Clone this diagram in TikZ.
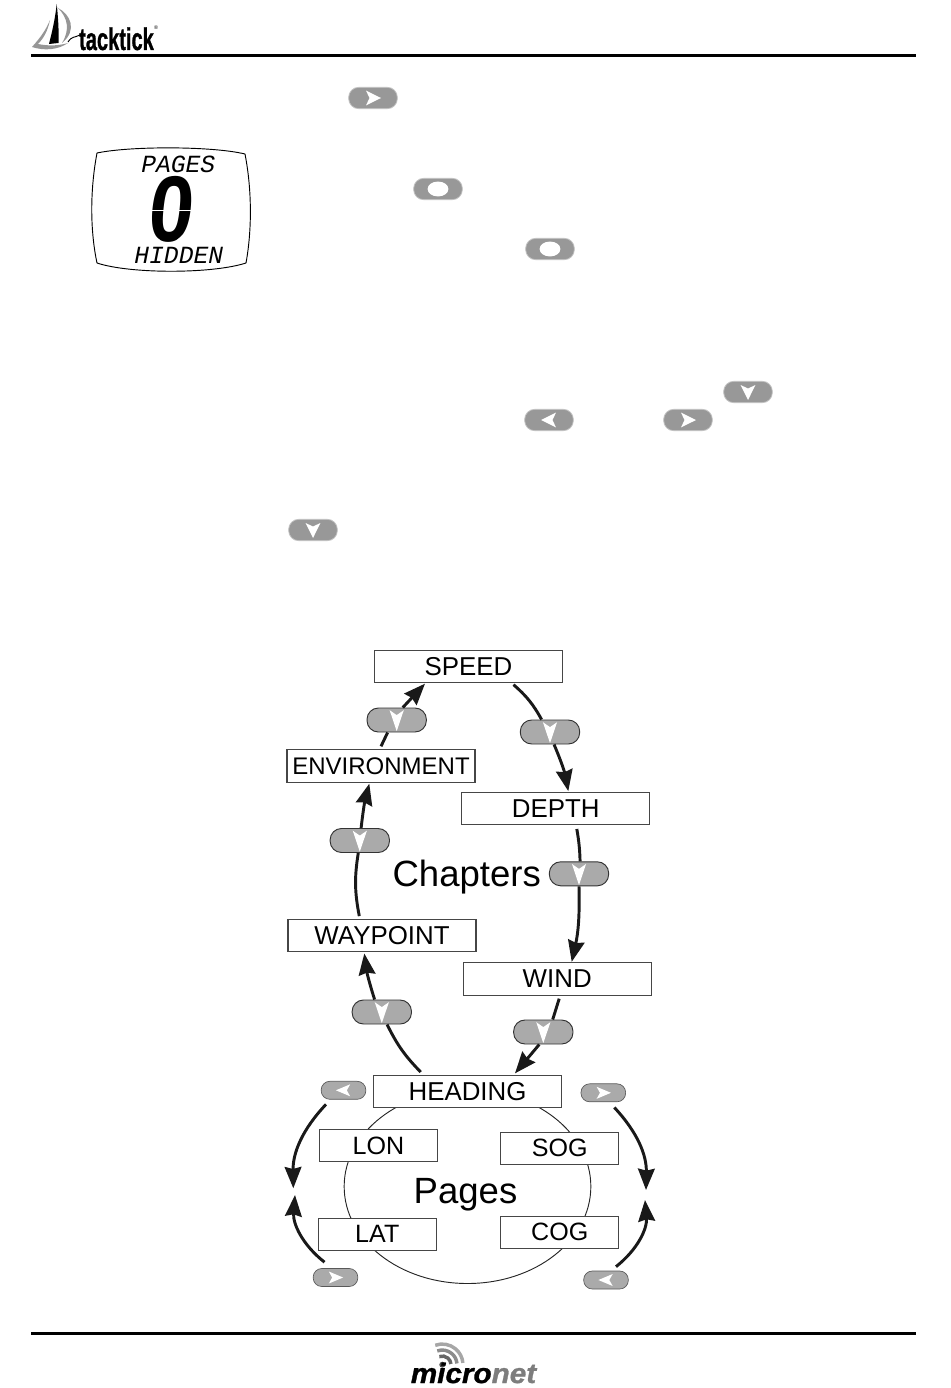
\documentclass[tikz,border=0pt]{standalone}
\usepackage{fontspec}
\setmainfont{Liberation Sans}
\newfontfamily\lcdfont{Liberation Mono}
\newfontfamily\logofont[RawFeature={embolden=1.2}]{Liberation Sans Bold}
\newfontfamily\netfont[RawFeature={embolden=1.0}]{Liberation Sans Bold Italic}
\usepackage{tikz}
\usepackage{xcolor}
\usetikzlibrary{positioning,arrows.meta,calc,shapes.geometric}
\definecolor{keygrey}{RGB}{160,160,160}
\definecolor{keyedge}{RGB}{195,195,195}
\definecolor{boxline}{RGB}{70,70,70}
\definecolor{sailgrey}{RGB}{150,150,150}
\definecolor{netgrey}{RGB}{125,125,125}
\tikzset{
    chapter/.style={
        rectangle,
        draw=boxline,
        fill=white,
        line width=0.8pt,
        minimum width=141pt,
        minimum height=24.2pt,
        inner sep=0pt,
        font=\fontsize{19.4}{21}\selectfont
    },
    page/.style={
        chapter,
        minimum width=88.5pt,
        font=\fontsize{18.8}{21}\selectfont
    },
    title/.style={
        anchor=base,
        inner sep=0pt,
        font=\fontsize{27.4}{30}\selectfont
    },
    lcd/.style={
        inner sep=0pt,
        font=\lcdfont\itshape\fontsize{18.5}{20}\selectfont
    },
    % angle, tip, back and half width of the chevron
    keyarrow/.style n args={4}{
        path picture={
            \fill[white,sharp corners,shift={(path picture bounding box.center)}]
                (#1:#2pt) -- ({#1+180-atan(#4/#3)}:{sqrt(#3*#3+#4*#4)*1pt})
                -- ({#1+180}:{#3*0.5pt}) -- ({#1+180+atan(#4/#3)}:{sqrt(#3*#3+#4*#4)*1pt}) -- cycle;
        }
    },
    topkey/.style={
        rectangle,
        rounded corners=7.5pt,
        draw=keyedge,
        fill=keygrey!95!black,
        line width=0.6pt,
        minimum width=36.5pt,
        minimum height=16pt,
        inner sep=0pt,
        keyarrow={#1}{6}{5.25}{5.6}
    },
    dotkey/.style={
        rectangle,
        rounded corners=7.5pt,
        draw=keyedge,
        fill=keygrey!95!black,
        line width=0.6pt,
        minimum width=36.5pt,
        minimum height=16pt,
        inner sep=0pt,
        path picture={
            \fill[white,sharp corners] (path picture bounding box.center) ellipse (7.8pt and 5.6pt);
        }
    },
    bigkey/.style={
        rectangle,
        rounded corners=8.5pt,
        draw=black!80,
        fill=keygrey!90,
        line width=0.7pt,
        minimum width=44.5pt,
        minimum height=18pt,
        inner sep=0pt,
        keyarrow={-90}{8.4}{7.35}{5.3}
    },
    smallkey/.style={
        rectangle,
        rounded corners=6.5pt,
        draw=black!65,
        fill=keygrey!90,
        line width=0.5pt,
        minimum width=33.5pt,
        minimum height=13.5pt,
        inner sep=0pt,
        keyarrow={#1}{5.7}{5}{4.5}
    },
    flow/.style={line width=2.2pt,black!90},
    arr/.style={flow,-{Stealth[length=16pt,width=12.5pt,inset=1.5pt]}},
    rule/.style={line width=2.4pt,black}
}

\begin{document}
\begin{tikzpicture}[x=0.75pt,y=-0.75pt]
\useasboundingbox (0,0) rectangle (950,1388);

% header
\coordinate (headl) at (31,55.5);
\coordinate (headr) at (916,55.5);
\draw[rule] (headl) -- (headr);
\fill[sailgrey] (50,20) .. controls (46,30) and (40,38) .. (32,47) .. controls (44,51) and (58,50) .. (68,43) .. controls (58,46) and (48,46) .. (38,44) .. controls (44,38) and (48,30) .. cycle;
\fill[sailgrey] (58,8) .. controls (70,14) and (78,30) .. (62,43) .. controls (70,30) and (68,18) .. cycle;
\fill[black] (56.7,4) .. controls (55,20) and (52,32) .. (49,44) -- (58.5,43) .. controls (59,30) and (58,16) .. cycle;
\draw[black,line width=0.7pt] (68,42) .. controls (72,36) and (74,38) .. (80,35);
\node[anchor=base,inner sep=0pt,xscale=0.64,font=\logofont\fontsize{23.5}{25}\selectfont] (tacktick) at (116.5,50) {tacktick};
\node[inner sep=0pt,font=\fontsize{4}{5}\selectfont] (regmark) at (156,28) {®};

% display
\draw[black,line width=0.7pt] (97,153) .. controls (130,146) and (212,146) .. (245,154)
    .. controls (252,190) and (252,230) .. (246,263) .. controls (212,274) and (130,274) .. (97,263)
    .. controls (90,230) and (90,190) .. cycle;
\node[lcd] (pagesword) at (178.3,164) {PAGES};
\node[lcd] (hiddenword) at (178.8,255.5) {HIDDEN};
\node[inner sep=0pt,xscale=0.86,xslant=0.12,font=\bfseries\fontsize{70}{72}\selectfont] (zero) at (172,209.5) {0};
\foreach \a/\b in {156.5/183.5,183/177}{
    \draw[white,line width=0.5pt] (\a,\b) -- ++(6,-5);
}
\draw[white,line width=0.6pt] (150,210) -- (164,210);
\draw[white,line width=0.6pt] (178,210) -- (194,210);
\draw[white,line width=0.5pt] (153,235) -- (160,240.5);
\draw[white,line width=0.5pt] (177,240.5) -- (183,235);

% buttons in the page text
\node[topkey=0] (keya) at (373,98) {};
\node[dotkey] (keyb) at (438,189) {};
\node[dotkey] (keyc) at (550,249) {};
\node[topkey=-90] (keyd) at (748,392) {};
\node[topkey=180] (keye) at (549,420) {};
\node[topkey=0] (keyf) at (688,420) {};
\node[topkey=-90] (keyg) at (313,530) {};

% chapters
\node[chapter] (speed) at (468.5,666.5) {SPEED};
\node[chapter,font=\fontsize{18}{20}\selectfont] (environment) at (381,766) {ENVIRONMENT};
\node[chapter] (depth) at (555.8,808.3) {DEPTH};
\node[chapter] (waypoint) at (382,935.8) {WAYPOINT};
\node[chapter] (wind) at (557.2,979) {WIND};
\node[title] (chapters) at (466.7,886) {Chapters};

\node[bigkey] (keyspeed) at (550,732) {};
\node[bigkey] (keyenv) at (396.7,720) {};
\node[bigkey] (keyway) at (359.8,840.5) {};
\node[bigkey] (keydepth) at (579,873.8) {};
\node[bigkey] (keyhead) at (381.8,1012) {};
\node[bigkey] (keywind) at (543.3,1032) {};

% pages
\node[ellipse,draw=black!85,line width=0.7pt,minimum width=185pt,minimum height=145.5pt,inner sep=0pt] (pagering) at (467.5,1186.5) {};
\node[chapter] (heading) at (467.5,1091.3) {HEADING};
\node[page] (lon) at (378.5,1145.8) {LON};
\node[page] (sog) at (559.7,1148.3) {SOG};
\node[page] (lat) at (377.3,1234.3) {LAT};
\node[page] (cog) at (559.7,1232.2) {COG};
\node[title] (pages) at (465.5,1203) {Pages};

\node[smallkey=180] (keytl) at (343.5,1090.3) {};
\node[smallkey=0] (keytr) at (603.3,1092.8) {};
\node[smallkey=0] (keybl) at (335.5,1277.5) {};
\node[smallkey=180] (keybr) at (606,1280) {};

\coordinate (meetlu) at (293.3,1188.3);
\coordinate (meetld) at (295,1195);
\coordinate (meetru) at (646,1190);
\coordinate (meetrd) at (645,1200);

\draw[flow] ($(speed.south)+(45,1.5)$) to[bend left=10] (keyspeed.124);
\draw[arr] (keyspeed.-72) to[bend left=6] ($(depth.north)+(12.5,-0.5)$);
\draw[flow] ($(depth.south)+(21,4)$) to[bend left=4] (keydepth.85);
\draw[arr] (keydepth.south) to[bend left=7] ($(wind.north)+(14.5,-0.5)$);
\draw[flow] ($(wind.south)+(2,3)$) -- (keywind.53);
\draw[arr] (keywind.-108) -- ($(heading.north)+(47.5,-1.3)$);
\draw[flow] ($(heading.north)+(-46.8,-2.6)$) to[bend left=9] (keyhead.-67);
\draw[arr] (keyhead.120) to[bend left=5] ($(waypoint.south)+(-17.7,1)$);
\draw[flow] ($(waypoint.north)+(-22.7,-3)$) to[bend left=10] (keyway.-97);
\draw[arr] (keyway.84) to[bend left=4] ($(environment.south)+(-11.7,1)$);
\draw[flow] ($(environment.north)+(0,-3)$) -- (keyenv.-126);
\draw[arr] (keyenv.64) -- ($(speed.south)+(-43.5,0.5)$);

\draw[arr] ($(keytl.south)+(-17.5,4.7)$) to[bend right=22] (meetlu);
\draw[arr] ($(keybl.north)+(-11,-6)$) to[bend left=28] (meetld);
\draw[arr] ($(keytr.south)+(11,5.3)$) to[bend left=22] (meetru);
\draw[arr] ($(keybr.north)+(10,-4)$) to[bend right=28] (meetrd);

% footer
\coordinate (footl) at (31,1333.5);
\coordinate (footr) at (916,1333.5);
\draw[rule] (footl) -- (footr);
\node[circle,fill=black!70,inner sep=0pt,minimum size=4.5pt] (netdot) at (442.3,1364.7) {};
\foreach \r/\g in {6.5/60,11/45,15.5/35}{
    \draw[black!\g,line width=2.6pt] ([shift={(110:\r pt)}]netdot.center) arc[start angle=110,end angle=5,radius=\r pt];
}
\node[anchor=base,inner sep=0pt,xscale=1.06,font=\netfont\fontsize{21}{23}\selectfont] (micronet) at (473.5,1383) {micro\textcolor{netgrey}{net}};
\end{tikzpicture}
\end{document}
